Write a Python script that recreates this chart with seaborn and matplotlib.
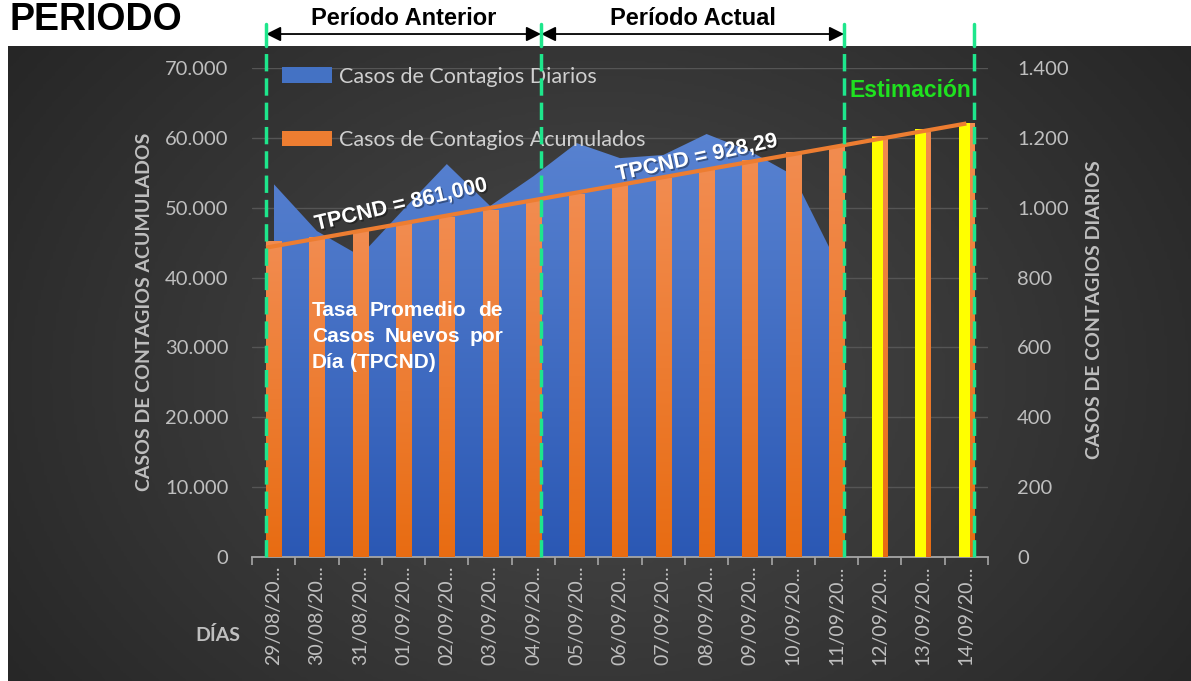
import numpy as np
import pandas as pd
import seaborn as sns
import matplotlib.pyplot as plt
import matplotlib.patheffects as pe
from matplotlib.patches import Patch
from matplotlib.colors import LinearSegmentedColormap
from matplotlib.transforms import blended_transform_factory

sns.set_style('dark')
plt.rcParams['font.family'] = ['Lato', 'DejaVu Sans']

# Datos
fechas = ["29/08/20...", "30/08/20...", "31/08/20...", "01/09/20...", "02/09/20...",
          "03/09/20...", "04/09/20...", "05/09/20...", "06/09/20...", "07/09/20...",
          "08/09/20...", "09/09/20...", "10/09/20...", "11/09/20...", "12/09/20...",
          "13/09/20...", "14/09/20..."]
acumulados = [45130, 45760, 46660, 47660, 48620, 49660, 50850, 51950, 53230,
              54190, 55380, 56700, 57850, 58550, 60150, 61200, 62060]
diarios = [1068, 933, 862, 995, 1125, 1005, 1090, 1185, 1142, 1151, 1211, 1162, 1093, 845]
n_estimacion = 3
periodos = ["Período Anterior", "Período Actual"]
tpcnd = ["TPCND = 861,000", "TPCND = 928,29"]

W, H = 1191, 681
BAR_W = 0.35
GRIS = '#BFBFBF'
VERDE = '#1EE68C'
ARIAL = ['Liberation Sans', 'DejaVu Sans']

def fx(x):
    return x / W

def fy(y):
    return 1 - y / H

df = pd.DataFrame({'fecha': fechas, 'acumulados': acumulados})
idx = np.arange(len(fechas))

fig = plt.figure(figsize=(W / 100, H / 100), dpi=100)
fig.patch.set_facecolor('white')

# fondo oscuro con degradado radial
bg = fig.add_axes([fx(8), 0, 1 - fx(8), fy(46)], zorder=-10)
gx, gy = np.meshgrid(np.linspace(0, 1, 400), np.linspace(0, 1, 250))
r = np.sqrt(((gx - 0.5) / 0.62) ** 2 + ((gy - 0.52) / 0.9) ** 2)
bg_cmap = LinearSegmentedColormap.from_list('bg', ['#4a4a4a', '#262626'])
bg.imshow(np.clip(r, 0, 1), cmap=bg_cmap, vmin=0, vmax=1, aspect='auto')
bg.axis('off')

ax = fig.add_axes([fx(252), fy(557), fx(988) - fx(252), fy(68) - fy(557)])
ax2 = ax.twinx()
ax.set_zorder(2)
ax2.set_zorder(1)
ax.patch.set_visible(False)
ax2.patch.set_visible(False)

# area de casos diarios (eje derecho)
ax2.set_ylim(0, 1400)
ax2.set_yticks(range(0, 1401, 200))
ax2.grid(axis='y', color='#555555', lw=1)
ax2.grid(axis='x', visible=False)
area = ax2.fill_between(idx[:len(diarios)], diarios, color='#4472C4', lw=0)
blue_cmap = LinearSegmentedColormap.from_list('azul', ['#2B58B4', '#5A84D2'])
grad = np.linspace(0, 1, 256).reshape(-1, 1)
im = ax2.imshow(grad, extent=[0, len(diarios) - 1, 0, 1250], origin='lower',
                aspect='auto', cmap=blue_cmap, zorder=1)
im.set_clip_path(area.get_paths()[0], transform=ax2.transData)
area.set_visible(False)

# barras de casos acumulados (eje izquierdo)
sns.barplot(data=df, x='fecha', y='acumulados', color='#ED7D31', width=BAR_W,
            saturation=1, errorbar=None, ax=ax, zorder=3, linewidth=0, edgecolor='none')
orange_cmap = LinearSegmentedColormap.from_list('naranja', ['#E86C12', '#F28C50'])
for bar in list(ax.patches):
    x0, h = bar.get_x(), bar.get_height()
    ax.imshow(grad, extent=[x0, x0 + bar.get_width(), 0, h], origin='lower',
              aspect='auto', cmap=orange_cmap, zorder=3.1)

# estimacion (amarillo)
est = idx[-n_estimacion:]
ax.bar(est - BAR_W / 2, np.array(acumulados)[-n_estimacion:], width=0.25, align='edge',
       color='#FFFF00', lw=0, zorder=3.2)

ax.set_xlim(-0.5, len(fechas) - 0.5)
ax.set_ylim(0, 70000)
ax.set_yticks(range(0, 70001, 10000))
ax.grid(False)

# linea de tendencia
coef = np.polyfit(idx, acumulados, 1)
tx = np.array([-BAR_W / 2, idx[-1]])
ax.plot(tx, np.polyval(coef, tx), color='#ED7D31', lw=3, zorder=4, solid_capstyle='butt')

# ejes
fmt = lambda v: f"{v:,.0f}".replace(',', '.')
ax.set_yticks(range(0, 70001, 10000))
ax.set_yticklabels([fmt(v) for v in range(0, 70001, 10000)])
ax2.set_yticklabels([fmt(v) for v in range(0, 1401, 200)])
ax.tick_params(axis='y', length=0, pad=17, labelsize=14.5, labelcolor=GRIS)
ax2.tick_params(axis='y', length=0, pad=21, labelsize=14.5, labelcolor=GRIS)
ax.set_xticks(idx)
ax.set_xticklabels(fechas, rotation=90)
ax.set_xticks(np.arange(-0.5, len(fechas), 1), minor=True)
ax.tick_params(axis='x', which='major', length=0, pad=6, labelsize=14, labelcolor=GRIS)
ax.tick_params(axis='x', which='minor', length=6, width=1.2, color='#A6A6A6', bottom=True)
ax.set_xlabel('')
ax.set_ylabel('')
for a in (ax, ax2):
    for s in a.spines.values():
        s.set_visible(False)
ax.spines['bottom'].set_visible(True)
ax.spines['bottom'].set_color('#A6A6A6')
ax.spines['bottom'].set_linewidth(1.3)

fig.text(fx(145), fy(312), 'CASOS DE CONTAGIOS ACUMULADOS', rotation=90, ha='center',
         va='center', fontsize=14, weight='bold', color=GRIS)
fig.text(fx(1095), fy(310), 'CASOS DE CONTAGIOS DIARIOS', rotation=90, ha='center',
         va='center', fontsize=14, weight='bold', color=GRIS)
fig.text(fx(218), fy(635), 'DÍAS', ha='center', va='center', fontsize=14,
         weight='bold', color=GRIS)

# leyenda
handles = [Patch(facecolor='#4472C4', edgecolor='none'),
           Patch(facecolor='#ED7D31', edgecolor='none')]
ax.legend(handles, ['Casos de Contagios Diarios', 'Casos de Contagios Acumulados'],
          loc='upper left', bbox_to_anchor=(0.026, 1.025), frameon=False, fontsize=15.5,
          labelcolor='#CFCFCF', handlelength=2.35, handleheight=0.7, labelspacing=2.0,
          handletextpad=0.3, borderpad=0)

# limites de periodo (lineas verdes)
limites = [-BAR_W / 2, 6 + BAR_W / 2, 13 + BAR_W / 2, 16 + BAR_W / 2]
trans = blended_transform_factory(ax.transData, ax.transAxes)
for lx in limites:
    ax.plot([lx, lx], [0, 1.045], transform=trans, color=VERDE, lw=2.5,
            ls=(0, (5, 2)), clip_on=False, zorder=6)
    ax.plot([lx, lx], [1.045, 1.09], transform=trans, color=VERDE, lw=2.5,
            clip_on=False, zorder=6)

for nombre, a, b in zip(periodos, limites[:-2], limites[1:-1]):
    ax.annotate('', xy=(b, 1.0695), xytext=(a, 1.0695), xycoords=trans,
                arrowprops=dict(arrowstyle='<|-|>', color='black', lw=1.3,
                                mutation_scale=22, shrinkA=0, shrinkB=0),
                annotation_clip=False)
    ax.text((a + b) / 2, 1.102, nombre, transform=trans, ha='center', va='center',
            fontsize=17, weight='bold', family=ARIAL, color='black', clip_on=False)

fig.text(fx(10), fy(20), 'PERIODO', ha='left', va='center', fontsize=27,
         weight='bold', family=ARIAL, color='black')

sombra = [pe.withSimplePatchShadow(offset=(1.2, -1.2), shadow_rgbFace='black', alpha=0.35)]
ax.text(2.94, 50390, tpcnd[0], rotation=13, rotation_mode='anchor', ha='center',
        va='center', fontsize=15.5, weight='bold', family=ARIAL, color='white',
        zorder=7, path_effects=sombra)
ax.text(9.77, 57115, tpcnd[1], rotation=12, rotation_mode='anchor', ha='center',
        va='center', fontsize=15.5, weight='bold', family=ARIAL, color='white',
        zorder=7, path_effects=sombra)
ax.text(14.70, 66850, 'Estimación', ha='center', va='center', fontsize=16.5,
        weight='bold', family=ARIAL, color='#1FE11F', zorder=7)

# texto justificado
renderer = fig.canvas.get_renderer()
def justificar(palabras, x0, x1, y, just=True, size=15):
    ts = [fig.text(0, fy(y), p, ha='left', va='center', fontsize=size, weight='bold',
                   family=ARIAL, color='white', zorder=8) for p in palabras]
    anchos = [t.get_window_extent(renderer).width for t in ts]
    esp = 0.28 * size * 100 / 72
    gap = (x1 - x0 - sum(anchos)) / (len(palabras) - 1) if just else esp
    x = x0
    for t, w in zip(ts, anchos):
        t.set_x(fx(x))
        x += w + gap

justificar(['Tasa', 'Promedio', 'de'], 312, 503, 311)
justificar(['Casos', 'Nuevos', 'por'], 312, 503, 336)
justificar(['Día', '(TPCND)'], 312, 503, 362, just=False)

fig.savefig('out.png', dpi=100)
